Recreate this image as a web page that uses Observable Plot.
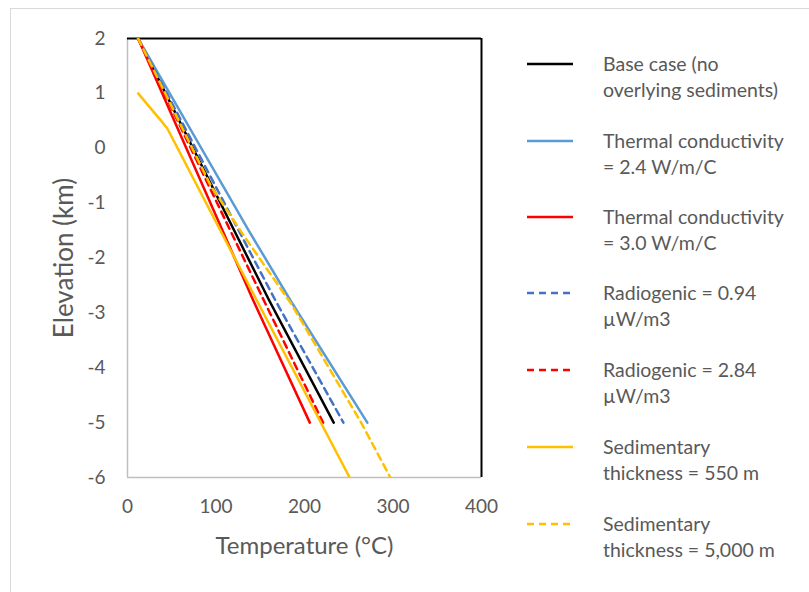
<!DOCTYPE html>
<html>
<head>
<meta charset="utf-8">
<script src="https://cdn.jsdelivr.net/npm/d3@7"></script>
<script src="https://cdn.jsdelivr.net/npm/@observablehq/plot@0.6"></script>
<style>
  html, body { margin: 0; padding: 0; background: #fff; }
  #wrap { position: relative; width: 809px; height: 592px; overflow: hidden; font-family: Lato, "Open Sans", sans-serif; }
  #border { position: absolute; left: 10px; top: 8px; width: 830px; height: 620px; border: 1px solid #d9d9d9; box-sizing: border-box; }
  #chart { position: absolute; left: 0; top: 0; }
  #legend { position: absolute; left: 0; top: 0; }
</style>
</head>
<body>
<div id="wrap"><div id="border"></div><div id="chart"></div><svg id="legend" width="809" height="592"></svg></div>
<script>
// ---- data ----
const seriesNames = [
  "Base case (no overlying sediments)",
  "Thermal conductivity = 2.4 W/m/C",
  "Thermal conductivity = 3.0 W/m/C",
  "Radiogenic = 0.94 µW/m3",
  "Radiogenic = 2.84 µW/m3",
  "Sedimentary thickness = 550 m",
  "Sedimentary thickness = 5,000 m"
];
const legendLines = [
  ["Base case (no", "overlying sediments)"],
  ["Thermal conductivity", "= 2.4 W/m/C"],
  ["Thermal conductivity", "= 3.0 W/m/C"],
  ["Radiogenic = 0.94", "µW/m3"],
  ["Radiogenic = 2.84", "µW/m3"],
  ["Sedimentary", "thickness = 550 m"],
  ["Sedimentary", "thickness = 5,000 m"]
];
const baseT   = [12, 160, 233];   const baseE   = [2, -2.77, -5];
const k24T    = [12, 137, 184, 271]; const k24E = [2, -1.5, -2.77, -5];
const k30T    = [12, 142, 206];   const k30E    = [2, -2.77, -5];
const rad094T = [12, 167, 244];   const rad094E = [2, -2.77, -5];
const rad284T = [12, 154, 221];   const rad284E = [2, -2.77, -5];
const sed550T = [12, 39, 45, 146, 251]; const sed550E = [1, 0.48, 0.36, -2.77, -6];
const sed5000T = [12, 94, 130, 186, 264, 297]; const sed5000E = [2, -0.68, -1.56, -2.86, -5, -6];

const xTicks = [0, 100, 200, 300, 400];
const yTicks = [2, 1, 0, -1, -2, -3, -4, -5, -6];

const colors = ["#000000", "#5B9BD5", "#FF0000", "#4472C4", "#FF0000", "#FFC000", "#FFC000"];
const dashes = [null, null, null, "7,5", "7,5", null, "7,5"];

const temps = [baseT, k24T, k30T, rad094T, rad284T, sed550T, sed5000T];
const elevs = [baseE, k24E, k30E, rad094E, rad284E, sed550E, sed5000E];
const table = seriesNames.map((name, i) => temps[i].map((t, j) => ({series: name, T: t, E: elevs[i][j]})));

const marks = [
  Plot.ruleX([0], {stroke: "#bfbfbf", strokeWidth: 1.5}),
  Plot.ruleY([-6], {stroke: "#bfbfbf", strokeWidth: 1.5}),
  Plot.ruleY([2], {stroke: "#000", strokeWidth: 2}),
  Plot.ruleX([400], {stroke: "#000", strokeWidth: 2}),
  Plot.axisX(xTicks, {tickSize: 0, tickPadding: 22, tickFormat: d => String(d), fill: "#595959", label: null}),
  Plot.axisY(yTicks, {tickSize: 0, tickPadding: 22, tickFormat: d => String(d), fill: "#595959", label: null}),
  Plot.text(["Temperature (°C)"], {frameAnchor: "bottom", dy: 76, textAnchor: "middle", fontSize: 24, fill: "#595959"}),
  Plot.text(["Elevation (km)"], {frameAnchor: "left", dx: -63, rotate: -90, textAnchor: "middle", fontSize: 26, fill: "#595959"})
];
table.forEach((rows, i) => {
  marks.push(Plot.line(rows, {x: "T", y: "E", stroke: colors[i], strokeWidth: 2.5, strokeDasharray: dashes[i] || undefined, clip: true}));
});

const chart = Plot.plot({
  width: 809, height: 592,
  marginLeft: 127, marginRight: 328, marginTop: 38, marginBottom: 115,
  x: {domain: [0, 400]},
  y: {domain: [-6, 2]},
  style: {fontFamily: "Lato, 'Open Sans', sans-serif", fontSize: "19px", background: "transparent", color: "#595959"},
  marks
});
document.getElementById("chart").appendChild(chart);

// ---- legend ----
const lg = d3.select("#legend");
const legendY = [64, 141, 217, 293, 370, 447, 524];
legendLines.forEach((lines, i) => {
  const y = legendY[i];
  lg.append("line").attr("x1", 527).attr("x2", 573).attr("y1", y).attr("y2", y)
    .attr("stroke", colors[i]).attr("stroke-width", 2.5)
    .attr("stroke-dasharray", dashes[i] || null);
  lines.forEach((t, j) => {
    lg.append("text").attr("x", 603).attr("y", y + j * 26).attr("dy", "0.35em")
      .attr("font-size", 19.5).attr("fill", "#595959")
      .attr("font-family", "Lato, 'Open Sans', sans-serif").text(t);
  });
});
</script>
</body>
</html>
